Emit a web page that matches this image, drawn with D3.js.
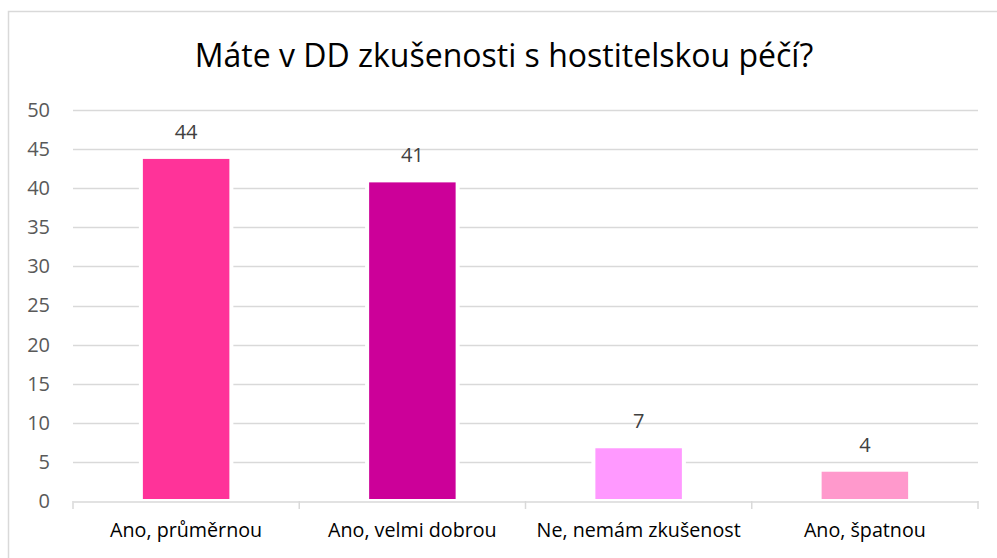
<!DOCTYPE html>
<html><head><meta charset="utf-8">
<script src="https://cdn.jsdelivr.net/npm/d3@7"></script>
<style>body{margin:0;background:#fff}svg{display:block}text{font-family:"Open Sans",sans-serif}</style>
</head><body><svg id="c" width="997" height="558"></svg>
<script>
const title = "Máte v DD zkušenosti s hostitelskou péčí?";
const categories = ["Ano, průměrnou", "Ano, velmi dobrou", "Ne, nemám zkušenost", "Ano, špatnou"];
const values = [44, 41, 7, 4];
const colors = ["#FF3399", "#CC0099", "#FF99FF", "#FF99CC"];
const yTicks = [0, 5, 10, 15, 20, 25, 30, 35, 40, 45, 50];

const svg = d3.select("#c");
svg.append("rect").attr("x", 8.5).attr("y", 11.5).attr("width", 1000).attr("height", 600)
  .attr("fill", "#fff").attr("stroke", "#d9d9d9").attr("stroke-width", 1.5);

const m = {l: 73, r: 978, t: 110, b: 501};
const x = d3.scaleBand().domain(categories).range([m.l, m.r]).padding(0);
const y = d3.scaleLinear().domain([0, 50]).range([m.b, m.t]);

svg.append("text").attr("x", 504).attr("y", 67).attr("text-anchor", "middle")
  .attr("font-size", 32).attr("fill", "#000").text(title);

svg.append("g").selectAll("line").data(yTicks.filter(d => d > 0)).join("line")
  .attr("x1", m.l).attr("x2", m.r).attr("y1", d => Math.round(y(d)) + 0.5).attr("y2", d => Math.round(y(d)) + 0.5)
  .attr("stroke", "#d9d9d9").attr("stroke-width", 1.3);

const yAxis = svg.append("g").attr("transform", `translate(${m.l},0)`)
  .call(d3.axisLeft(y).tickValues(yTicks).tickSize(0).tickPadding(23));
yAxis.select(".domain").remove();
yAxis.selectAll("text").attr("font-size", 20).attr("fill", "#595959").attr("font-family", "'Open Sans',sans-serif");

const bw = x.bandwidth() * 0.4;
svg.append("g").selectAll("rect").data(values).join("rect")
  .attr("x", (d, i) => x(categories[i]) + (x.bandwidth() - bw) / 2)
  .attr("width", bw)
  .attr("y", d => y(d)).attr("height", d => y(0) - y(d))
  .attr("fill", (d, i) => colors[i]).attr("stroke", "#fff").attr("stroke-width", 4);

const xAxis = svg.append("g").attr("transform", `translate(0,${m.b + 0.5})`)
  .call(d3.axisBottom(x).tickSize(0).tickPadding(22));
xAxis.select(".domain").attr("stroke", "#d9d9d9").attr("stroke-width", 1.5);
xAxis.selectAll("text").attr("font-size", 19.7).attr("fill", "#000").attr("font-family", "'Open Sans',sans-serif");
const edges = categories.map(c => x(c)).concat([m.r]);
svg.append("g").selectAll("line").data(edges).join("line")
  .attr("x1", d => d).attr("x2", d => d).attr("y1", m.b).attr("y2", m.b + 8)
  .attr("stroke", "#d9d9d9").attr("stroke-width", 1.5);

svg.append("g").selectAll("text").data(values).join("text")
  .attr("x", (d, i) => x(categories[i]) + x.bandwidth() / 2)
  .attr("y", d => y(d) - 18).attr("text-anchor", "middle")
  .attr("font-size", 20).attr("fill", "#404040").text(d => d);
</script></body></html>
